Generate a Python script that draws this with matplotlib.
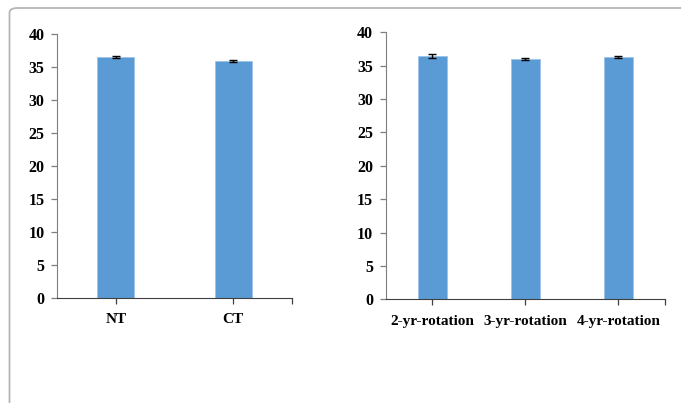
import matplotlib
matplotlib.use("Agg")
import matplotlib.pyplot as plt
from matplotlib.patches import FancyBboxPatch
import numpy as np

plt.rcParams['font.family'] = ['Liberation Serif', 'DejaVu Serif']
plt.rcParams['font.weight'] = 'bold'

tillage = ["NT", "CT"]
tillage_vals = [36.5, 35.9]
tillage_err = [0.2, 0.2]

rotation = ["2-yr-rotation", "3-yr-rotation", "4-yr-rotation"]
rotation_vals = [36.5, 36.05, 36.25]
rotation_err = [0.3, 0.15, 0.15]

yticks = [0, 5, 10, 15, 20, 25, 30, 35, 40]

BAR = '#5B9BD5'
W, H = 681, 403
fig = plt.figure(figsize=(W / 100, H / 100), dpi=100)

# frame around the figure (top and left visible)
frame = FancyBboxPatch((9.5 / W, -0.2), 1.5, 1.2 - 8 / H,
                       boxstyle="round,pad=0,rounding_size=0.012",
                       transform=fig.transFigure, facecolor='none',
                       edgecolor='#b5b5b5', lw=1.3, clip_on=False)
fig.patches.append(frame)


def draw(ax, cats, vals, errs):
    x = np.arange(len(cats))
    ax.bar(x, vals, width=0.315, color=BAR, edgecolor='#9DC3E6', lw=0.6, zorder=2)
    ax.errorbar(x, vals, yerr=errs, fmt='none', ecolor='black', elinewidth=1.0,
                capsize=3.2, capthick=1.0, zorder=3)
    ax.set_xlim(-0.5, len(cats) - 0.5)
    ax.set_ylim(0, 40)
    ax.set_yticks(yticks)
    ax.set_xticks(x)
    ax.set_xticklabels(cats)
    ax.set_xticks([len(cats) - 0.5], minor=True)
    for s in ['top', 'right']:
        ax.spines[s].set_visible(False)
    ax.spines['left'].set_color('#7f7f7f')
    ax.spines['bottom'].set_color('#404040')
    ax.tick_params(axis='y', length=4, width=0.9, color='#7f7f7f', labelsize=11.5, pad=5)
    ax.tick_params(axis='x', which='both', length=4, width=0.9, color='#404040',
                   labelsize=11, pad=7)
    for lab in ax.get_xticklabels() + ax.get_yticklabels():
        lab.set_fontweight('bold')


ax1 = fig.add_axes([57 / W, 1 - 298 / H, (292 - 57) / W, (298 - 34) / H])
draw(ax1, tillage, tillage_vals, tillage_err)

ax2 = fig.add_axes([385.7 / W, 1 - 299.3 / H, (665 - 385.7) / W, (299.3 - 32.3) / H])
draw(ax2, rotation, rotation_vals, rotation_err)

fig.savefig("out.png", dpi=100)
